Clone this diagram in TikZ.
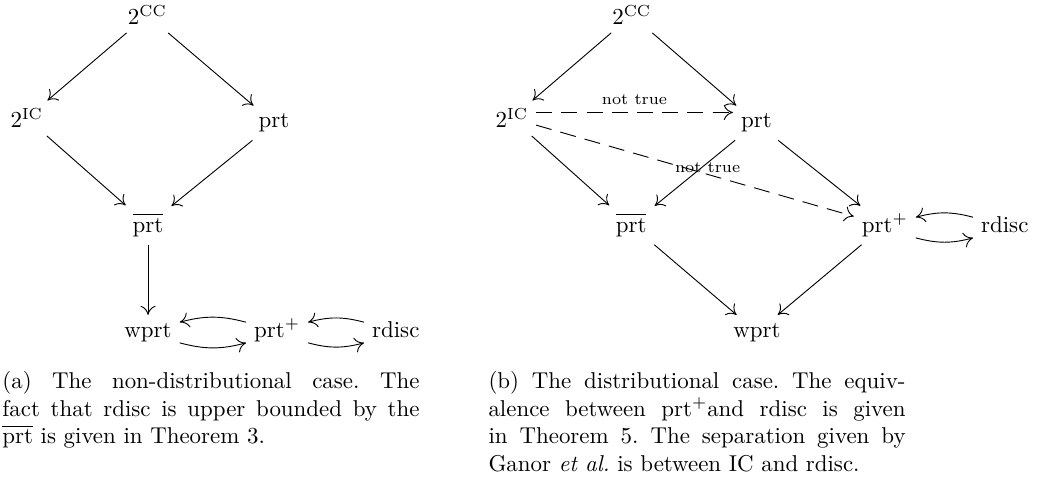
\documentclass[tikz,border=0pt]{standalone}
\usepackage{amsmath}
\usetikzlibrary{arrows,arrows.meta,calc}

\begin{document}
\begin{tikzpicture}[
	>={To[length=4pt,width=6.6pt]},
	vx/.style={anchor=base},
	lbl/.style={font=\scriptsize},
	nottrue/.style={->,dash pattern=on 7pt off 4pt},
	capt/.style={anchor=base west, inner sep=0pt, text width=182pt, align=justify, font=\frenchspacing}
	]
	\useasboundingbox (0,0) rectangle (15.95,-7.38);

	 % (a) non-distributional
	 \begin{scope}
		\draw (2.26,-0.38) node[vx](cca) {$2^{\mathrm{CC}}$};
		\draw (0.41,-1.96) node[vx](ica) {$2^{\mathrm{IC}}$};
		\draw (4.20,-1.96) node[vx](prta) {prt};
		\draw (2.27,-3.56) node[vx](bara) {$\overline{\mathrm{prt}}$};
		\draw (2.27,-5.17) node[vx](wprta) {wprt};
		\draw (4.25,-5.17) node[vx](plusa) {prt$^+$};
		\draw (6.07,-5.17) node[vx](rdisca) {rdisc};

		\draw [->] (cca) -- (ica);
		\draw [->] (cca) -- (prta);
		\draw [->] (ica) -- (bara);
		\draw [->] (prta) -- (bara);
		\draw [->] (bara) -- (wprta);
		\draw [->] ([yshift=6.5pt]plusa.base west) to[bend right=15] ([yshift=6.5pt]wprta.base east);
		\draw [->] ([yshift=-2.5pt]wprta.base east) to[bend right=15] ([yshift=-2.5pt]plusa.base west);
		\draw [->] ([yshift=6.5pt]rdisca.base west) to[bend right=15] ([yshift=6.5pt]plusa.base east);
		\draw [->] ([yshift=-2.5pt]plusa.base east) to[bend right=15] ([yshift=-2.5pt]rdisca.base west);

		\draw (0.03,-5.96) node[capt](capa)
					{(a) The non-distributional case. The\linebreak fact that rdisc is upper bounded by the\linebreak $\overline{\mathrm{prt}}$ is given in Theorem 3.};
	 \end{scope}

	 % (b) distributional
	 \begin{scope}
		\draw (9.69,-0.38) node[vx](ccb) {$2^{\mathrm{CC}}$};
		\draw (7.85,-1.96) node[vx](icb) {$2^{\mathrm{IC}}$};
		\draw (11.60,-1.96) node[vx](prtb) {prt};
		\draw (9.68,-3.56) node[vx](barb) {$\overline{\mathrm{prt}}$};
		\draw (13.57,-3.56) node[vx](plusb) {prt$^+$};
		\draw (15.41,-3.56) node[vx](rdiscb) {rdisc};
		\draw (11.61,-5.17) node[vx](wprtb) {wprt};

		\draw [->] (ccb) -- (icb);
		\draw [->] (ccb) -- (prtb);
		\draw [nottrue] ([yshift=2.5pt]icb.east) -- ([yshift=2.5pt]icb.east -| prtb.west) node[midway,above,lbl]
					{not true};
		\draw [nottrue] (icb) -- (plusb) node[pos=0.54,above,lbl,inner sep=0.5pt]
					{not true};
		\draw [->] (icb) -- (barb);
		\draw [->] (prtb) -- (barb);
		\draw [->] (prtb) -- (plusb);
		\draw [->] (barb) -- (wprtb);
		\draw [->] (plusb) -- (wprtb);
		\draw [->] ([yshift=6.5pt]rdiscb.base west) to[bend right=15] ([yshift=6.5pt]plusb.base east);
		\draw [->] ([yshift=-2.5pt]plusb.base east) to[bend right=15] ([yshift=-2.5pt]rdiscb.base west);

		\draw (7.485,-5.96) node[capt](capb)
					{(b) The distributional case. The equiv-\linebreak alence between prt$^+$and rdisc is given\linebreak in Theorem 5. The separation given by\linebreak Ganor \emph{et al.} is between IC and rdisc.};
	 \end{scope}
\end{tikzpicture}
\end{document}
